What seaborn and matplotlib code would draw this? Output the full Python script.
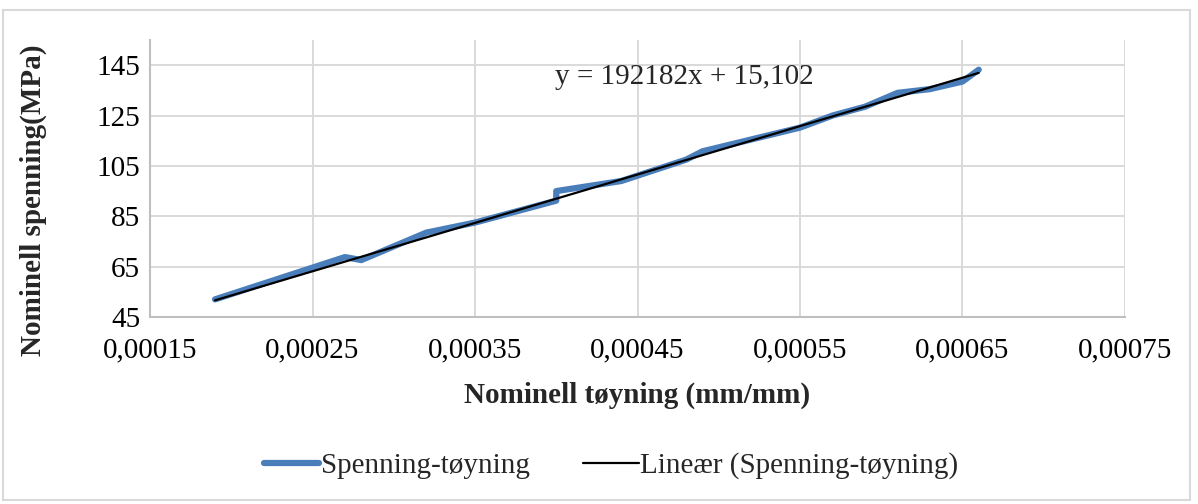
import numpy as np
import pandas as pd
import seaborn as sns
import matplotlib.pyplot as plt
from matplotlib.ticker import FuncFormatter
from matplotlib.patches import Rectangle

# data
strain = [0.00019, 0.00027, 0.00028, 0.00032, 0.00035, 0.00040, 0.00040, 0.00044,
          0.00048, 0.00049, 0.00055, 0.00057, 0.00059, 0.00061, 0.00063, 0.00065, 0.00066]
stress = [52.0, 68.8, 67.6, 78.5, 82.5, 91.2, 95.0, 99.0,
          107.5, 110.8, 120.2, 125.0, 128.5, 134.0, 135.5, 138.5, 143.2]
slope = 192182
intercept = 15.102
x_ticks = [0.00015, 0.00025, 0.00035, 0.00045, 0.00055, 0.00065, 0.00075]
y_ticks = [45, 65, 85, 105, 125, 145]

df = pd.DataFrame({"strain": strain, "stress": stress})
trend = pd.DataFrame({"strain": [min(strain), max(strain)]})
trend["stress"] = slope * trend["strain"] + intercept

sns.set_theme(style="whitegrid")
plt.rcParams['font.family'] = ['Liberation Serif', 'DejaVu Serif']
fs = 21

fig = plt.figure(figsize=(11.98, 5.04), dpi=100)
ax = fig.add_axes([150 / 1198, 1 - 317 / 504, (1125 - 150) / 1198, (317 - 40) / 504])

sns.lineplot(data=df, x="strain", y="stress", estimator=None, sort=False,
             color="#4a7ebb", linewidth=4.5, solid_capstyle="round", ax=ax,
             label="Spenning-tøyning")
sns.lineplot(data=trend, x="strain", y="stress", color="black", linewidth=1.6,
             ax=ax, label="Lineær (Spenning-tøyning)")

ax.set_xlim(0.00015, 0.00075)
ax.set_ylim(45, 155)
ax.set_xticks(x_ticks)
ax.set_yticks(y_ticks)
ax.xaxis.set_major_formatter(FuncFormatter(lambda v, p: f"{v:.5f}".replace(".", ",")))
ax.tick_params(length=0, labelsize=fs, colors="black")
ax.tick_params(axis="y", pad=7)
ax.tick_params(axis="x", pad=15)
ax.grid(True, color="#d9d9d9", linewidth=1.4)
for s in ["top", "right"]:
    ax.spines[s].set_visible(False)
for s in ["left", "bottom"]:
    ax.spines[s].set_color("#bfbfbf")
    ax.spines[s].set_linewidth(1.5)

ax.set_xlabel("Nominell tøyning (mm/mm)", fontsize=fs, fontweight="bold")
ax.set_ylabel("Nominell spenning(MPa)", fontsize=fs, fontweight="bold")
ax.xaxis.set_label_coords(0.5, -(382 - 317) / 277)
ax.yaxis.set_label_coords(-(150 - 47) / 975, 1 - (200 - 40) / 277)

fig.text(555 / 1198, 1 - 77 / 504, "y = 192182x + 15,102", fontsize=fs,
         ha="left", va="center")

handles, labels = ax.get_legend_handles_labels()
ax.get_legend().remove()
fig.legend(handles, labels, loc="center", bbox_to_anchor=(0.51, 1 - 466 / 504),
           ncol=2, frameon=False, fontsize=fs, handlelength=1.9, handletextpad=0.05,
           columnspacing=1.85)

fig.patches.append(Rectangle((3 / 1198, 4 / 504), 1187 / 1198, 490 / 504,
                             transform=fig.transFigure, fill=False,
                             edgecolor="#d9d9d9", linewidth=1.5))

plt.savefig("out.png", dpi=100)
